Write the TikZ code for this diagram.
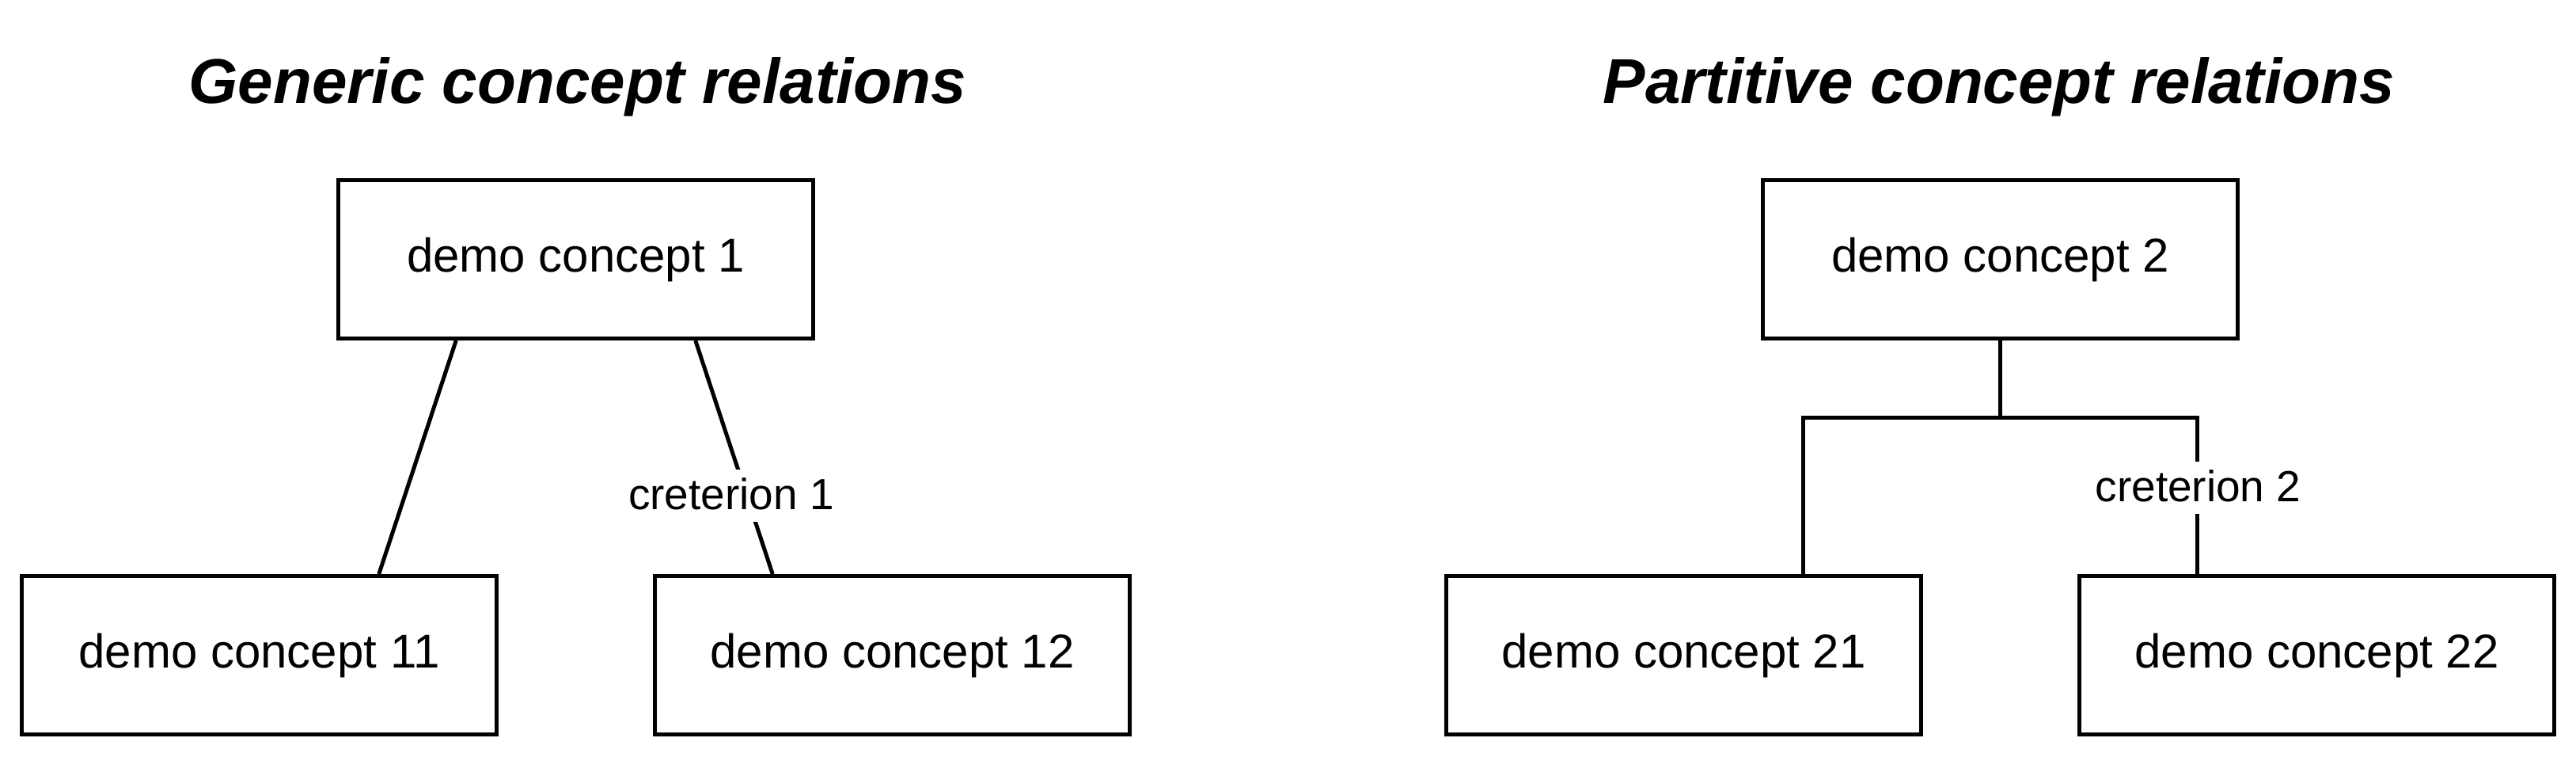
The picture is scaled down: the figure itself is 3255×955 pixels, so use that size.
\documentclass[tikz,border=0pt]{standalone}
\usepackage{fontspec}
\setmainfont{Liberation Sans}
\usetikzlibrary{calc}
\tikzset{
  concept/.style={draw=black, line width=2.5pt, minimum width=300pt, minimum height=100pt,
    inner sep=0pt, font=\fontsize{30pt}{36pt}\selectfont},
  ttl/.style={inner sep=0pt, font=\fontsize{40pt}{48pt}\selectfont\bfseries\itshape},
  lbl/.style={fill=white, inner xsep=1pt, inner ysep=0pt, text height=25pt, text depth=8pt,
    font=\fontsize{27.5pt}{33pt}\selectfont},
  conn/.style={line width=2.5pt, draw=black}
}
\begin{document}
\begin{tikzpicture}[x=0.5pt,y=-0.5pt]
\useasboundingbox[fill=white] (0,0) rectangle (3255,955);
% titles
\node (t1) [ttl, anchor=base] at (730,130) {Generic concept relations};
\node (t2) [ttl, anchor=base] at (2526,130) {Partitive concept relations};
% generic
\node (dc1)  [concept] at (727.5,327.5)  {demo concept 1};
\node (dc11) [concept] at (327.5,827.5)  {demo concept 11};
\node (dc12) [concept] at (1127.5,827.5) {demo concept 12};
\draw[conn] ($(dc1.south west)!0.25!(dc1.south east)$) -- ($(dc11.north west)!0.75!(dc11.north east)$);
\draw[conn] ($(dc1.south west)!0.75!(dc1.south east)$) -- ($(dc12.north west)!0.25!(dc12.north east)$);
\node (c1) [lbl, anchor=base] at (924,643) {creterion 1};
% partitive
\node (dc2)  [concept] at (2527.5,327.5) {demo concept 2};
\node (dc21) [concept] at (2127.5,827.5) {demo concept 21};
\node (dc22) [concept] at (2927.5,827.5) {demo concept 22};
\coordinate (j) at (2527.5,527.5);
\draw[conn] (dc2.south) -- (j);
\draw[conn] (j) -| ($(dc21.north west)!0.75!(dc21.north east)$);
\draw[conn] (j) -| ($(dc22.north west)!0.25!(dc22.north east)$);
\node (c2) [lbl, anchor=base] at (2777.5,633) {creterion 2};
\end{tikzpicture}
\end{document}
